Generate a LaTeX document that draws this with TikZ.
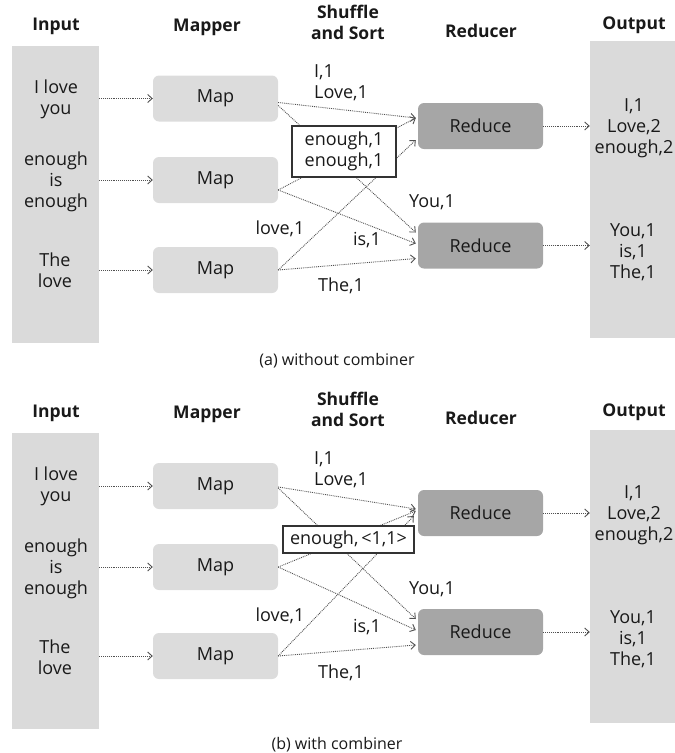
\documentclass[tikz,border=0pt]{standalone}
\usepackage{fontspec}
\setmainfont{Open Sans}
\usetikzlibrary{arrows.meta,positioning,calc}
\definecolor{colgray}{RGB}{218,218,218}
\definecolor{mapgray}{RGB}{220,220,220}
\definecolor{redgray}{RGB}{166,166,166}
\definecolor{linegray}{RGB}{80,80,80}
\definecolor{textgray}{RGB}{25,25,25}
\tikzset{
  head/.style = {font = \fontsize{17.5}{21}\selectfont\bfseries, align = center, inner sep = 0pt, textgray},
  txt/.style = {font = \fontsize{18}{21}\selectfont, align = center, inner sep = 0pt, textgray},
  colbox/.style = {fill = colgray, inner sep = 0pt},
  mapbox/.style = {txt, fill = mapgray, rounded corners = 6, minimum width = 125, minimum height = 46},
  redbox/.style = {mapbox, fill = redgray},
  combbox/.style = {txt, draw = black!80, line width = 1.3pt, fill = white},
  flow/.style = {->, densely dotted, linegray, line width = .9pt},
  captext/.style = {font = \fontsize{16}{19}\selectfont, inner sep = 0pt, textgray},
  >={Straight Barb[length=4.5pt, width=8pt]}
}
\begin{document}
\begin{tikzpicture}[x = 1pt, y = -1pt]
\useasboundingbox (0,0) rectangle (675,753);
% (a) without combiner
\node[head] (hina) at (56,26) {Input};
\node[head] (hmapa) at (207,27) {Mapper};
\node[head] (hshufa) at (348,22) {Shuffle\\and Sort};
\node[head] (hreda) at (481,31) {Reducer};
\node[head] (houta) at (634,25) {Output};
\node[colbox, minimum width = 87, minimum height = 297] (ina) at (55.5,194.5) {};
\node[colbox, minimum width = 85, minimum height = 297] (outa) at (632.5,189.5) {};
\node[txt] (ta1) at (56,99) {I love\\you};
\node[txt] (ta2) at (56,182) {enough\\is\\enough};
\node[txt] (ta3) at (55,270) {The\\love};
\node[mapbox] (mapa1) at (215.5,98.5) {Map};
\node[mapbox] (mapa2) at (215.5,180) {Map};
\node[mapbox] (mapa3) at (215.5,270) {Map};
\node[redbox] (reda1) at (480.5,126) {Reduce};
\node[redbox] (reda2) at (480.5,245.5) {Reduce};
\node[txt] (oa1) at (634,128) {I,1\\Love,2\\enough,2};
\node[txt] (oa2) at (633,252) {You,1\\is,1\\The,1};
\draw[flow] (ina.east |- mapa1) -- (mapa1.west);
\draw[flow] (ina.east |- mapa2) -- (mapa2.west);
\draw[flow] (ina.east |- mapa3) -- (mapa3.west);
\draw[flow] (reda1.east) -- (outa.west |- reda1);
\draw[flow] (reda2.east) -- (outa.west |- reda2);
\draw[flow] ($(mapa1.east)+(0,4)$) -- ($(reda1.west)+(-2,-8)$);
\draw[flow] ($(mapa1.east)+(0,7)$) -- ($(reda2.west)+(-2,-13)$);
\draw[flow] ($(mapa2.east)+(0,10)$) -- ($(reda1.west)+(-2,-8)$);
\draw[flow] ($(mapa2.east)+(0,10)$) -- ($(reda2.west)+(-2,-2)$);
\draw[flow] (mapa3.east) -- ($(reda1.west)+(-2,14)$);
\draw[flow] (mapa3.east) -- ($(reda2.west)+(-2,13)$);
\node[combbox, minimum width = 104, minimum height = 51] (comba) at (344,151.5) {enough,1\\enough,1};
\node[txt, align = left, anchor = west] (la1) at (314,83) {I,1\\Love,1};
\node[txt] (la2) at (432,202) {You,1};
\node[txt] (la3) at (280,229) {love,1};
\node[txt] (la4) at (367,240) {is,1};
\node[txt] (la5) at (341,286) {The,1};
\node[captext] (capa) at (337,361) {(a) without combiner};
% (b) with combiner
\node[head] (hinb) at (56,413) {Input};
\node[head] (hmapb) at (207,414) {Mapper};
\node[head] (hshufb) at (348,409) {Shuffle\\and Sort};
\node[head] (hredb) at (481,418) {Reducer};
\node[head] (houtb) at (634,412) {Output};
\node[colbox, minimum width = 87, minimum height = 296] (inb) at (55.5,581) {};
\node[colbox, minimum width = 85, minimum height = 293] (outb) at (632.5,576.5) {};
\node[txt] (tb1) at (56,486) {I love\\you};
\node[txt] (tb2) at (56,569) {enough\\is\\enough};
\node[txt] (tb3) at (55,657) {The\\love};
\node[mapbox] (mapb1) at (215.5,486) {Map};
\node[mapbox] (mapb2) at (215.5,567) {Map};
\node[mapbox] (mapb3) at (215.5,656) {Map};
\node[redbox] (redb1) at (480.5,513) {Reduce};
\node[redbox] (redb2) at (480.5,632) {Reduce};
\node[txt] (ob1) at (634,515) {I,1\\Love,2\\enough,2};
\node[txt] (ob2) at (633,639) {You,1\\is,1\\The,1};
\draw[flow] (inb.east |- mapb1) -- (mapb1.west);
\draw[flow] (inb.east |- mapb2) -- (mapb2.west);
\draw[flow] (inb.east |- mapb3) -- (mapb3.west);
\draw[flow] (redb1.east) -- (outb.west |- redb1);
\draw[flow] (redb2.east) -- (outb.west |- redb2);
\draw[flow] ($(mapb1.east)+(0,1)$) -- ($(redb1.west)+(-2,-4)$);
\draw[flow] ($(mapb1.east)+(0,2)$) -- ($(redb2.west)+(-2,-13)$);
\draw[flow] (mapb2.east) -- ($(redb1.west)+(-2,-2)$);
\draw[flow] (mapb2.east) -- ($(redb2.west)+(-2,-2)$);
\draw[flow] (mapb3.east) -- ($(redb1.west)+(-4,3)$);
\draw[flow] (mapb3.east) -- ($(redb2.west)+(-2,13)$);
\node[combbox, minimum width = 131, minimum height = 27] (combb) at (348.5,539.5) {enough,\,<1,1>};
\node[txt, align = left, anchor = west] (lb1) at (314,470) {I,1\\Love,1};
\node[txt] (lb2) at (432,589) {You,1};
\node[txt] (lb3) at (280,616) {love,1};
\node[txt] (lb4) at (367,627) {is,1};
\node[txt] (lb5) at (341,673) {The,1};
\node[captext] (capb) at (337,745) {(b) with combiner};
\end{tikzpicture}
\end{document}
